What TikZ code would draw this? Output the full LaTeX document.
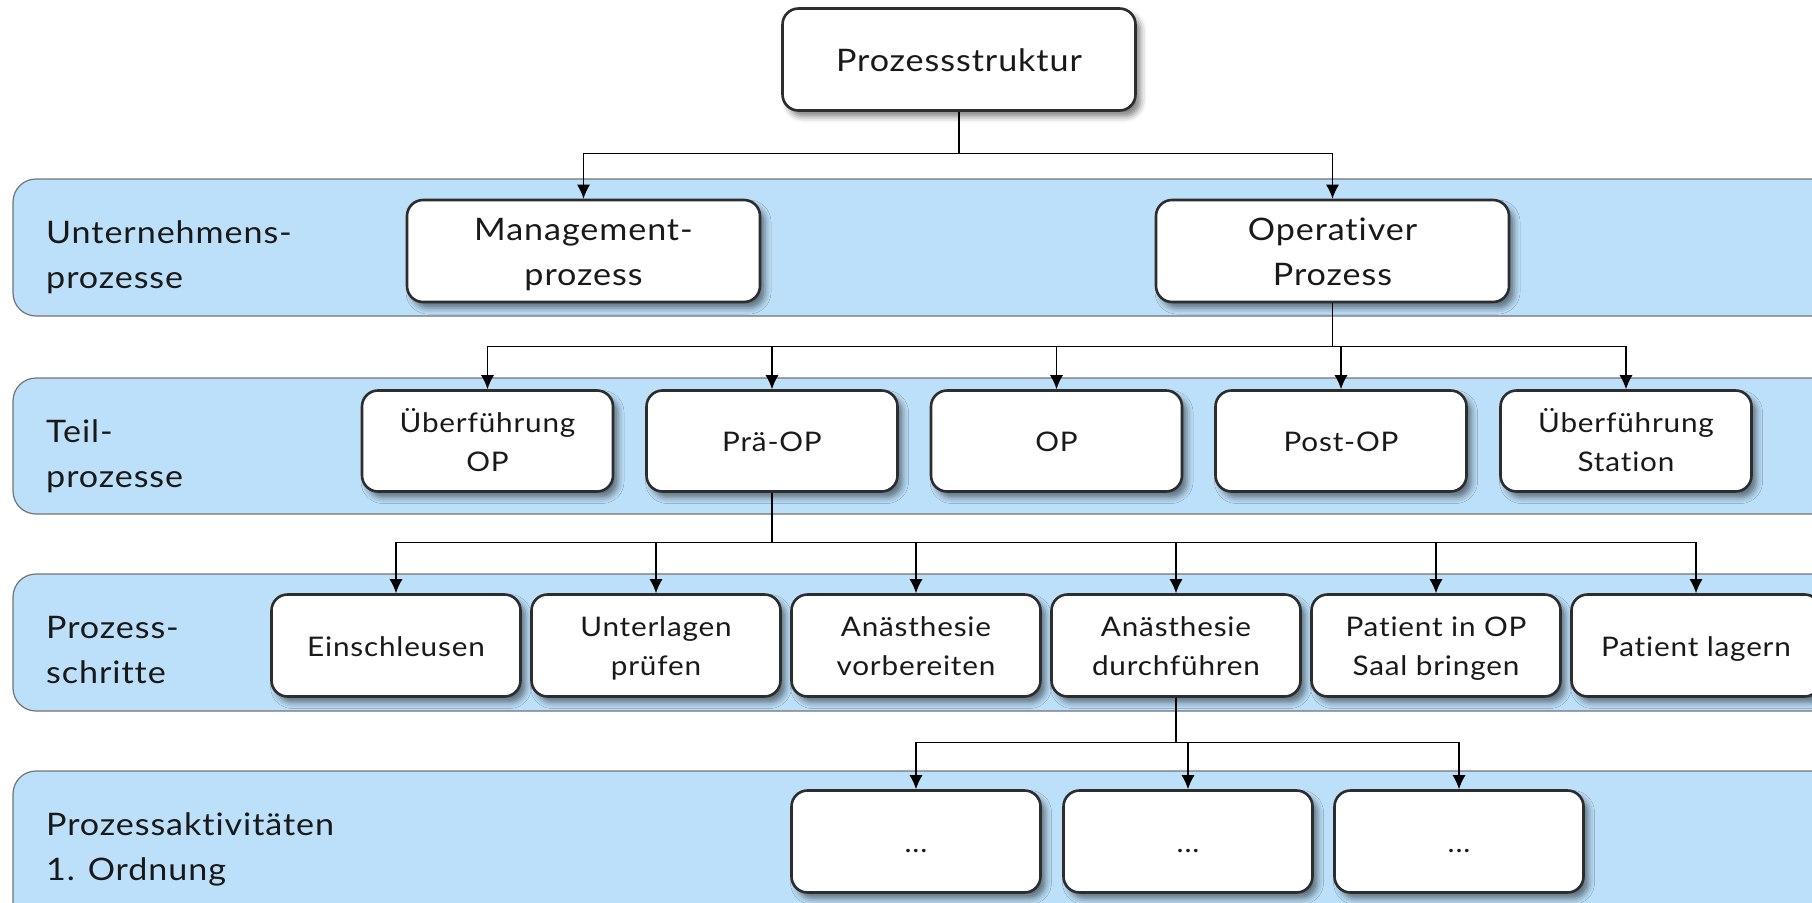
\documentclass[tikz,border=0pt]{standalone}
\usepackage{fontspec}
\setmainfont{Lato}[FakeStretch=1.1, LetterSpace=3, Ligatures=NoCommon]
\usetikzlibrary{arrows.meta,shadows.blur}
\definecolor{bandblue}{RGB}{189,224,250}
\definecolor{boxline}{RGB}{45,45,45}
\definecolor{txt}{RGB}{25,25,25}

% invisible rules giving every first and last text line a fixed height and depth
\newcommand{\bigstr}{\rule[-7pt]{0pt}{38pt}}
\newcommand{\teilstr}{\rule[-6pt]{0pt}{33pt}}
\newcommand{\stepstr}{\rule[-6pt]{0pt}{33.5pt}}

\begin{document}
\begin{tikzpicture}[x=1pt,y=-1pt,
  band/.style={draw=black!55, fill=bandblue, line width=1.2pt, rounded corners=23pt},
  lbl/.style={anchor=west, align=left, font=\fontsize{31}{45}\selectfont, text=txt, inner sep=0pt},
  boxbase/.style={draw=boxline, fill=white, line width=2.6pt, rounded corners=16pt,
    align=center, text=txt, inner sep=0pt,
    blur shadow={shadow xshift=5pt, shadow yshift=-6pt, shadow blur radius=6pt, shadow opacity=50}},
  bigbox/.style={boxbase, minimum width=353pt, minimum height=102pt, font=\fontsize{31}{45}\selectfont,
    execute at begin node={\let\ls\bigstr}},
  teilbox/.style={boxbase, minimum width=251pt, minimum height=101pt, font=\fontsize{27}{39}\selectfont,
    execute at begin node={\let\ls\teilstr}},
  stepbox/.style={boxbase, minimum width=249pt, minimum height=102pt, font=\fontsize{27}{39}\selectfont,
    execute at begin node={\let\ls\stepstr}},
  conn/.style={line width=1.3pt, draw=black, -{Latex[length=14pt,width=13pt]}},
]
\useasboundingbox (0,0) rectangle (1812,902);
\clip (0,0) rectangle (1812,902);

% level bands
\draw[band] (13,179) rectangle (1870,316);
\draw[band] (13,378) rectangle (1870,514);
\draw[band] (13,574) rectangle (1870,711);
\draw[band] (13,771) rectangle (1870,960);

% band labels
\node[lbl] (l1) at (46,257.5) {Unternehmens-\\prozesse};
\node[lbl] (l2) at (46,456) {Teil-\\prozesse};
\node[lbl] (l3) at (46,650.5) {Prozess-\\schritte};
\node[lbl] (l4) at (46,849) {Prozessaktivitäten\\1. Ordnung};

% top level
\node[bigbox] (root) at (959,59.5) {\ls Prozessstruktur\ls};

% Unternehmensprozesse
\node[bigbox] (mgmt) at (583.5,251) {\ls Management-\\prozess\ls};
\node[bigbox] (oper) at (1332.5,251) {\ls Operativer\\Prozess\ls};

% Teilprozesse
\node[teilbox] (t1) at (487.5,441) {\ls Überführung\\OP\ls};
\node[teilbox] (t2) at (772,441) {\ls Prä-OP\ls};
\node[teilbox] (t3) at (1056.5,441) {\ls OP\ls};
\node[teilbox] (t4) at (1341,441) {\ls Post-OP\ls};
\node[teilbox] (t5) at (1626,441) {\ls Überführung\\Station\ls};

% Prozessschritte
\node[stepbox] (s1) at (396,645.5) {\ls Einschleusen\ls};
\node[stepbox] (s2) at (656,645.5) {\ls Unterlagen\\prüfen\ls};
\node[stepbox] (s3) at (916,645.5) {\ls Anästhesie\\vorbereiten\ls};
\node[stepbox] (s4) at (1176,645.5) {\ls Anästhesie\\durchführen\ls};
\node[stepbox] (s5) at (1436,645.5) {\ls Patient in OP\\Saal bringen\ls};
\node[stepbox] (s6) at (1696,645.5) {\ls Patient lagern\ls};

% Prozessaktivitaeten
\node[stepbox] (a1) at (916,841.5) {\ls ...\ls};
\node[stepbox] (a2) at (1188,841.5) {\ls ...\ls};
\node[stepbox] (a3) at (1459,841.5) {\ls ...\ls};

% connectors
\foreach \c in {mgmt,oper}
  \draw[conn] (root.south) -- ++(0,42) -| (\c.north);
\foreach \c in {t1,t2,t3,t4,t5}
  \draw[conn] (oper.south) -- ++(0,43) -| (\c.north);
\foreach \c in {s1,s2,s3,s4,s5,s6}
  \draw[conn] (t2.south) -- ++(0,50) -| (\c.north);
\foreach \c in {a1,a2,a3}
  \draw[conn] (s4.south) -- ++(0,45) -| (\c.north);
\end{tikzpicture}
\end{document}
